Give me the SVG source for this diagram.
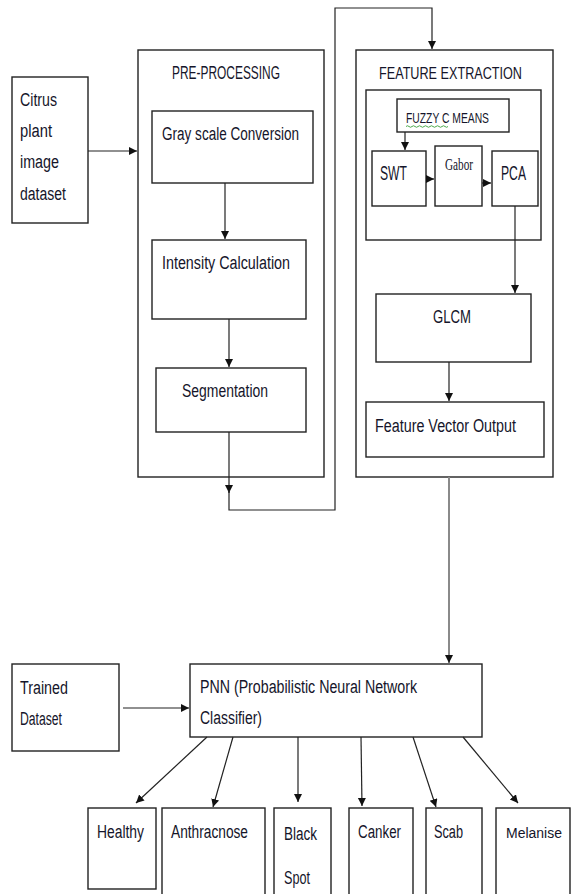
<svg xmlns="http://www.w3.org/2000/svg" width="573" height="894" viewBox="0 0 573 894">
<style>
.b{fill:#fff;stroke:#222;stroke-width:1.4}
.c{fill:none;stroke:#222;stroke-width:1.2}
.t{font-family:"Liberation Sans",Arial,sans-serif;font-size:18px;fill:#15152a}
.s{font-family:"Liberation Serif","Times New Roman",serif;font-size:16px;fill:#15152a}
</style>
<defs>
<marker id="a" markerUnits="userSpaceOnUse" markerWidth="9" markerHeight="9" refX="8" refY="4" orient="auto">
<path d="M0,0 L8,4 L0,8 z" fill="#111"/>
</marker>
</defs>
<rect width="573" height="894" fill="#fff"/>

<g id="citrus"><rect class="b" x="12" y="77" width="76" height="146"/>
<text class="t" x="20" y="106" textLength="37" lengthAdjust="spacingAndGlyphs">Citrus</text>
<text class="t" x="20" y="137" textLength="32" lengthAdjust="spacingAndGlyphs">plant</text>
<text class="t" x="20" y="168" textLength="39" lengthAdjust="spacingAndGlyphs">image</text>
<text class="t" x="20" y="200" textLength="46" lengthAdjust="spacingAndGlyphs">dataset</text></g>

<g id="preprocessing"><rect class="b" x="138" y="50" width="186" height="427"/>
<text class="t" x="172" y="79" textLength="108" lengthAdjust="spacingAndGlyphs">PRE-PROCESSING</text></g>
<g id="grayscale"><rect class="b" x="152" y="111" width="161" height="72"/>
<text class="t" x="162" y="140" textLength="137" lengthAdjust="spacingAndGlyphs">Gray scale Conversion</text></g>
<g id="intensity"><rect class="b" x="152" y="240" width="154" height="79"/>
<text class="t" x="162" y="269" textLength="128" lengthAdjust="spacingAndGlyphs">Intensity Calculation</text></g>
<g id="segmentation"><rect class="b" x="156" y="368" width="150" height="64"/>
<text class="t" x="182" y="397" textLength="86" lengthAdjust="spacingAndGlyphs">Segmentation</text></g>

<g id="featureextraction"><rect class="b" x="356" y="50" width="197" height="427"/>
<text class="t" x="379" y="79" style="font-size:16px" textLength="143" lengthAdjust="spacingAndGlyphs">FEATURE EXTRACTION</text></g>
<g id="innerbox"><rect class="b" x="366" y="90" width="175" height="150"/></g>
<g id="fuzzy"><rect class="b" x="397" y="99" width="112" height="33"/>
<text class="t" x="406" y="123" style="font-size:14px" textLength="83" lengthAdjust="spacingAndGlyphs">FUZZY C MEANS</text>
<path d="M406,126.5 q1.5,-1.5 3,0 t3,0 t3,0 t3,0 t3,0 t3,0 t3,0 t3,0 t3,0 t3,0 t3,0 t3,0 t3,0 t3,0" fill="none" stroke="#3aa03a" stroke-width="0.9"/></g>
<g id="swt"><rect class="b" x="372" y="151" width="54" height="55"/>
<text class="t" x="380" y="180" style="font-size:20px" textLength="27" lengthAdjust="spacingAndGlyphs">SWT</text></g>
<g id="gabor"><rect class="b" x="435" y="146" width="47" height="60"/>
<text class="s" x="445" y="170" textLength="28" lengthAdjust="spacingAndGlyphs">Gabor</text></g>
<g id="pca"><rect class="b" x="492" y="151" width="46" height="55"/>
<text class="t" x="501" y="180" style="font-size:20px" textLength="25" lengthAdjust="spacingAndGlyphs">PCA</text></g>
<g id="glcm"><rect class="b" x="376" y="294" width="155" height="68"/>
<text class="t" x="433" y="323" textLength="38" lengthAdjust="spacingAndGlyphs">GLCM</text></g>
<g id="fvo"><rect class="b" x="366" y="402" width="178" height="55"/>
<text class="t" x="375" y="432" textLength="141" lengthAdjust="spacingAndGlyphs">Feature Vector Output</text></g>

<g id="trained"><rect class="b" x="12" y="664" width="107" height="87"/>
<text class="t" x="20" y="694" textLength="48" lengthAdjust="spacingAndGlyphs">Trained</text>
<text class="t" x="20" y="725" textLength="42" lengthAdjust="spacingAndGlyphs">Dataset</text></g>
<g id="pnn"><rect class="b" x="190" y="664" width="292" height="73"/>
<text class="t" x="200" y="693" textLength="217" lengthAdjust="spacingAndGlyphs">PNN (Probabilistic Neural Network</text>
<text class="t" x="200" y="724" textLength="62" lengthAdjust="spacingAndGlyphs">Classifier)</text></g>

<g id="healthy"><rect class="b" x="88" y="808" width="68" height="81"/>
<text class="t" x="97" y="838" textLength="47" lengthAdjust="spacingAndGlyphs">Healthy</text></g>
<g id="anthracnose"><rect class="b" x="162" y="808" width="103" height="100"/>
<text class="t" x="171" y="838" textLength="77" lengthAdjust="spacingAndGlyphs">Anthracnose</text></g>
<g id="blackspot"><rect class="b" x="274" y="808" width="57" height="100"/>
<text class="t" x="284" y="840" textLength="33" lengthAdjust="spacingAndGlyphs">Black</text>
<text class="t" x="284" y="884" textLength="26" lengthAdjust="spacingAndGlyphs">Spot</text></g>
<g id="canker"><rect class="b" x="349" y="808" width="64" height="100"/>
<text class="t" x="358" y="838" textLength="43" lengthAdjust="spacingAndGlyphs">Canker</text></g>
<g id="scab"><rect class="b" x="426" y="808" width="56" height="100"/>
<text class="t" x="434" y="838" textLength="29" lengthAdjust="spacingAndGlyphs">Scab</text></g>
<g id="melanise"><rect class="b" x="496" y="808" width="74" height="100"/>
<text class="t" x="506" y="838" style="font-size:15.5px" textLength="56" lengthAdjust="spacingAndGlyphs">Melanise</text></g>

<g id="connectors">
<path class="c" d="M88,151 H137" marker-end="url(#a)"/>
<path class="c" d="M225,183 V239" marker-end="url(#a)"/>
<path class="c" d="M229,319 V367" marker-end="url(#a)"/>
<path class="c" d="M229,432 V493" marker-end="url(#a)"/>
<path class="c" d="M229,490 V510 H335 V8 H432 V49" marker-end="url(#a)"/>
<path class="c" d="M405,132 V150" marker-end="url(#a)"/>
<path class="c" d="M426,179 H434" marker-end="url(#a)"/>
<path class="c" d="M482,183 H491" marker-end="url(#a)"/>
<path class="c" d="M515,206 V293" marker-end="url(#a)"/>
<path class="c" d="M449,362 V401" marker-end="url(#a)"/>
<path class="c" d="M449,477 V663" style="stroke:#8a8a8a;stroke-width:2" marker-end="url(#a)"/>
<path class="c" d="M123,708 H189" marker-end="url(#a)"/>
<path class="c" d="M207,737 L136,803" marker-end="url(#a)"/>
<path class="c" d="M233,737 L213,807" marker-end="url(#a)"/>
<path class="c" d="M298,737 V802" marker-end="url(#a)"/>
<path class="c" d="M361,737 L362,806" marker-end="url(#a)"/>
<path class="c" d="M413,737 L436,807" marker-end="url(#a)"/>
<path class="c" d="M463,737 L518,803" marker-end="url(#a)"/>
</g>
</svg>
